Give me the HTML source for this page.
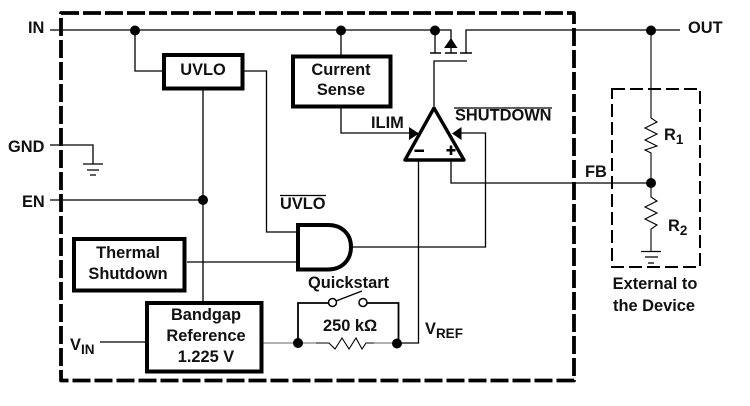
<!DOCTYPE html>
<html><head><meta charset="utf-8">
<style>
html,body{margin:0;padding:0;background:#fff}
svg{display:block}
text{font-family:"Liberation Sans",sans-serif;font-weight:bold;font-size:16.4px;fill:#111}
.s{font-size:13.500px}
</style></head>
<body>
<svg width="750" height="406" viewBox="0 0 750 406" xmlns="http://www.w3.org/2000/svg">
<rect width="750" height="406" fill="#fff"/>
<!-- outer dashed -->
<rect x="61" y="13" width="513" height="367.5" fill="none" stroke="#000" stroke-width="3.8" stroke-dasharray="18 4" stroke-linejoin="round"/>
<!-- external dashed -->
<rect x="612" y="89" width="88" height="178" fill="none" stroke="#000" stroke-width="2" stroke-dasharray="13 5"/>
<g fill="none" stroke="#000" stroke-width="1.3">
<path d="M50 30H451V53M466 53V30H680"/>
<path d="M435 30V53"/>
<path d="M135 30V71H162"/>
<path d="M341 30V55M341 108V133H409"/>
<path d="M244 71H266.500V232H296"/>
<path d="M203 90V301"/>
<path d="M50 200H203"/>
<path d="M50 145H93V164"/>
<path d="M83 164H103M87 170H99M90 175H96"/>
<path d="M187 262H296"/>
<path d="M351 247H485.500V133H461"/>
<path d="M100 342H145"/>
<path d="M434 106V61H467"/>
<path d="M430 53H441M445 53H457M460 53H472" stroke-width="1.5"/>
<path d="M418.500 160V343H397"/>
<path d="M451 160V183H651"/>
<path d="M651 30V118L657 122L645 128L657 134L645 140L657 146L645 150L651 153V197L657 201L645 207L657 213L645 219L657 225L651 229V251" stroke-width="1.1"/>
<path d="M641 251.500H661M645 257H658M648 263H654"/>
<path d="M316 343H329L335 349L342 338L349 349L356 338L362 349L366 343H374" stroke-width="1.1"/>
<path d="M336 301L362 291"/>
</g>
<path d="M263 343H316M374 343H397" fill="none" stroke="#999" stroke-width="1.5"/>
<path d="M298 343V303H328.500M367 303H398.500V343" fill="none" stroke="#000" stroke-width="1.8"/>
<circle cx="332.500" cy="302.500" r="4" fill="#fff" stroke="#000" stroke-width="1.5"/>
<circle cx="363" cy="302.500" r="4" fill="#fff" stroke="#000" stroke-width="1.5"/>
<!-- boxes -->
<g fill="#fff" stroke="#000" stroke-width="4">
<rect x="164" y="55" width="78.500" height="33.500"/>
<rect x="293" y="56.500" width="97.500" height="50"/>
<rect x="74" y="239" width="110.500" height="51.500"/>
<rect x="147" y="303" width="114.500" height="68.500"/>
<path d="M298 225H328C342 225 351 234 351 247C351 260 342 269.500 328 269.500H298Z"/>
<path d="M434 108L405 160H464Z" stroke-width="3.400" stroke-linejoin="round"/>
</g>
<!-- filled shapes -->
<g fill="#000">
<circle cx="135" cy="30.500" r="5"/><circle cx="341" cy="30.500" r="5"/><circle cx="435" cy="30.500" r="5"/><circle cx="651" cy="30.500" r="5"/>
<circle cx="203" cy="200" r="5"/><circle cx="651" cy="183" r="5"/><circle cx="298" cy="343" r="5"/><circle cx="397" cy="343.500" r="5"/>
<path d="M451 38L457.500 48H444Z"/>
<path d="M419 133.500L409 127V140Z"/>
<path d="M452 133.500L461.500 127V140Z"/>
<path d="M414.500 149.500H424V152H414.500ZM446.500 149H455.500V151.500H446.500ZM449.700 145.500H452.300V155H449.700Z"/>
</g>
<!-- overlines -->
<path d="M454 108H552M280 195.500H326" stroke="#000" stroke-width="1.2" fill="none"/>
<!-- labels -->
<text x="28" y="33">IN</text>
<text x="688" y="33">OUT</text>
<text x="8" y="152">GND</text>
<text x="22" y="207">EN</text>
<text x="203" y="75" text-anchor="middle">UVLO</text>
<text x="341" y="75" text-anchor="middle">Current</text>
<text x="341" y="95" text-anchor="middle">Sense</text>
<text x="371" y="128">ILIM</text>
<text x="455" y="120.500">SHUTDOWN</text>
<text x="280" y="209">UVLO</text>
<text x="585" y="177">FB</text>
<text x="664" y="140">R<tspan class="s" dy="4">1</tspan></text>
<text x="668" y="231">R<tspan class="s" dy="4">2</tspan></text>
<text x="655" y="289" text-anchor="middle">External to</text>
<text x="654" y="311" text-anchor="middle">the Device</text>
<text x="308" y="288">Quickstart</text>
<text x="323" y="331">250 kΩ</text>
<text x="425" y="334">V<tspan class="s" dy="4">REF</tspan></text>
<text x="128" y="258" text-anchor="middle">Thermal</text>
<text x="128" y="279" text-anchor="middle">Shutdown</text>
<text x="206" y="320" text-anchor="middle">Bandgap</text>
<text x="206" y="341" text-anchor="middle">Reference</text>
<text x="206" y="362" text-anchor="middle">1.225 V</text>
<text x="70" y="350">V<tspan class="s" dy="4">IN</tspan></text>
</svg>
</body></html>
